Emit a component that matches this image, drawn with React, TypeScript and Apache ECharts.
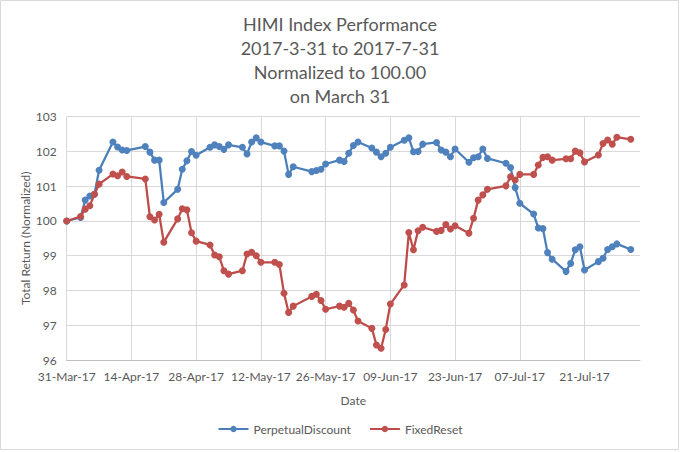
import React, { useEffect, useRef } from "react";
import * as echarts from "echarts";

const dates = [
  "2017-03-31", "2017-04-03", "2017-04-04", "2017-04-05", "2017-04-06", "2017-04-07",
  "2017-04-10", "2017-04-11", "2017-04-12", "2017-04-13", "2017-04-17", "2017-04-18",
  "2017-04-19", "2017-04-20", "2017-04-21", "2017-04-24", "2017-04-25", "2017-04-26",
  "2017-04-27", "2017-04-28", "2017-05-01", "2017-05-02", "2017-05-03", "2017-05-04",
  "2017-05-05", "2017-05-08", "2017-05-09", "2017-05-10", "2017-05-11", "2017-05-12",
  "2017-05-15", "2017-05-16", "2017-05-17", "2017-05-18", "2017-05-19", "2017-05-23",
  "2017-05-24", "2017-05-25", "2017-05-26", "2017-05-29", "2017-05-30", "2017-05-31",
  "2017-06-01", "2017-06-02", "2017-06-05", "2017-06-06", "2017-06-07", "2017-06-08",
  "2017-06-09", "2017-06-12", "2017-06-13", "2017-06-14", "2017-06-15", "2017-06-16",
  "2017-06-19", "2017-06-20", "2017-06-21", "2017-06-22", "2017-06-23", "2017-06-26",
  "2017-06-27", "2017-06-28", "2017-06-29", "2017-06-30", "2017-07-04", "2017-07-05",
  "2017-07-06", "2017-07-07", "2017-07-10", "2017-07-11", "2017-07-12", "2017-07-13",
  "2017-07-14", "2017-07-17", "2017-07-18", "2017-07-19", "2017-07-20", "2017-07-21",
  "2017-07-24", "2017-07-25", "2017-07-26", "2017-07-27", "2017-07-28", "2017-07-31",
];

const perpetualDiscount = [
  100.0, 100.1, 100.6, 100.72, 100.77, 101.46,
  102.27, 102.13, 102.04, 102.03, 102.14, 101.98,
  101.75, 101.75, 100.53, 100.91, 101.49, 101.73,
  102.0, 101.89, 102.12, 102.19, 102.14, 102.06,
  102.19, 102.12, 101.93, 102.27, 102.39, 102.27,
  102.16, 102.16, 102.01, 101.34, 101.56, 101.42,
  101.45, 101.49, 101.64, 101.75, 101.71, 101.95,
  102.17, 102.27, 102.1, 101.98, 101.85, 101.95,
  102.12, 102.32, 102.39, 101.99, 102.0, 102.21,
  102.26, 102.04, 101.98, 101.85, 102.07, 101.69,
  101.82, 101.85, 102.07, 101.8, 101.66, 101.54,
  100.96, 100.51, 100.2, 99.8, 99.78, 99.09,
  98.9, 98.55, 98.78, 99.17, 99.26, 98.59,
  98.83, 98.93, 99.18, 99.26, 99.34, 99.18,
];

const fixedReset = [
  100.0, 100.13, 100.34, 100.44, 100.77, 101.06,
  101.35, 101.3, 101.41, 101.28, 101.21, 100.12,
  100.03, 100.19, 99.39, 100.06, 100.35, 100.32,
  99.66, 99.42, 99.31, 99.02, 98.97, 98.57,
  98.47, 98.57, 99.05, 99.1, 99.0, 98.81,
  98.81, 98.75, 97.92, 97.37, 97.55, 97.83,
  97.89, 97.71, 97.46, 97.55, 97.52, 97.63,
  97.44, 97.12, 96.91, 96.43, 96.34, 96.88,
  97.61, 98.16, 99.67, 99.17, 99.72, 99.82,
  99.7, 99.73, 99.9, 99.77, 99.86, 99.65,
  100.08, 100.6, 100.75, 100.91, 101.01, 101.27,
  101.18, 101.34, 101.34, 101.61, 101.83, 101.85,
  101.75, 101.79, 101.79, 102.01, 101.96, 101.7,
  101.9, 102.23, 102.33, 102.21, 102.41, 102.35,
];

const titleLines = [
  "HIMI Index Performance",
  "2017-3-31 to 2017-7-31",
  "Normalized to 100.00",
  "on March 31",
];

const seriesNames = ["PerpetualDiscount", "FixedReset"];
const months = ["Jan", "Feb", "Mar", "Apr", "May", "Jun", "Jul", "Aug", "Sep", "Oct", "Nov", "Dec"];

const DAY = 86400000;
const origin = Date.UTC(2017, 2, 31);
const dayOf = (s: string) => {
  const [y, m, d] = s.split("-").map(Number);
  return Math.round((Date.UTC(y, m - 1, d) - origin) / DAY);
};
const fmtDay = (v: number) => {
  const dt = new Date(origin + v * DAY);
  const dd = String(dt.getUTCDate()).padStart(2, "0");
  const yy = String(dt.getUTCFullYear()).slice(2);
  return `${dd}-${months[dt.getUTCMonth()]}-${yy}`;
};

const FONT = "Lato, 'Open Sans', sans-serif";
const TXT = "#595959";

export default function App() {
  const ref = useRef<HTMLDivElement>(null);
  useEffect(() => {
    document.body.style.margin = "0";
    const chart = echarts.init(ref.current!, null, { renderer: "svg" });
    const blue = perpetualDiscount.map((v, i) => [dayOf(dates[i]), v]);
    const red = fixedReset.map((v, i) => [dayOf(dates[i]), v]);
    chart.setOption({
      animation: false,
      backgroundColor: "#ffffff",
      textStyle: { fontFamily: FONT },
      title: {
        text: titleLines.join("\n"),
        left: "center",
        top: 7,
        textStyle: { fontFamily: FONT, fontSize: 18, fontWeight: "normal", color: TXT, lineHeight: 24 },
      },
      graphic: [
        {
          type: "rect",
          shape: { x: 0.5, y: 0.5, width: 678, height: 449 },
          style: { fill: "none", stroke: "#d9d9d9", lineWidth: 1 },
          silent: true,
        },
      ],
      legend: {
        bottom: 12,
        left: "center",
        itemWidth: 30,
        itemHeight: 8,
        itemGap: 18,
        textStyle: { fontFamily: FONT, fontSize: 12, color: TXT },
        data: seriesNames,
      },
      grid: { left: 66.7, right: 40, top: 116.7, bottom: 92 },
      xAxis: {
        type: "value",
        min: 0,
        max: 124,
        interval: 14,
        name: "Date",
        nameLocation: "middle",
        nameGap: 34,
        nameTextStyle: { fontFamily: FONT, fontSize: 12, color: TXT },
        axisLine: { show: true, lineStyle: { color: "#bfbfbf", width: 1 } },
        axisTick: { show: false },
        axisLabel: {
          formatter: (v: number) => fmtDay(v),
          color: TXT,
          fontSize: 12,
          fontFamily: FONT,
          margin: 10,
          showMaxLabel: false,
        },
        splitLine: { show: true, showMaxLine: false, lineStyle: { color: "#d9d9d9", width: 1 } },
      },
      yAxis: {
        type: "value",
        min: 96,
        max: 103,
        interval: 1,
        name: "Total Return (Normalized)",
        nameLocation: "middle",
        nameGap: 35,
        nameMoveOverlap: false,
        nameTextStyle: { fontFamily: FONT, fontSize: 12, color: TXT },
        axisLine: { show: false },
        axisTick: { show: false },
        axisLabel: { color: TXT, fontSize: 12, fontFamily: FONT, margin: 10 },
        splitLine: { show: true, lineStyle: { color: "#d9d9d9", width: 1 } },
      },
      series: [
        {
          name: seriesNames[0],
          type: "line",
          data: blue,
          symbol: "circle",
          symbolSize: 7,
          showAllSymbol: true,
          lineStyle: { color: "#4A7EBB", width: 2.25 },
          itemStyle: { color: "#4F81BD" },
          z: 2,
        },
        {
          name: seriesNames[1],
          type: "line",
          data: red,
          symbol: "circle",
          symbolSize: 7,
          showAllSymbol: true,
          lineStyle: { color: "#BE4B48", width: 2.25 },
          itemStyle: { color: "#C0504D" },
          z: 3,
        },
      ],
    });
    return () => chart.dispose();
  }, []);
  return <div ref={ref} style={{ width: 680, height: 452 }} />;
}
